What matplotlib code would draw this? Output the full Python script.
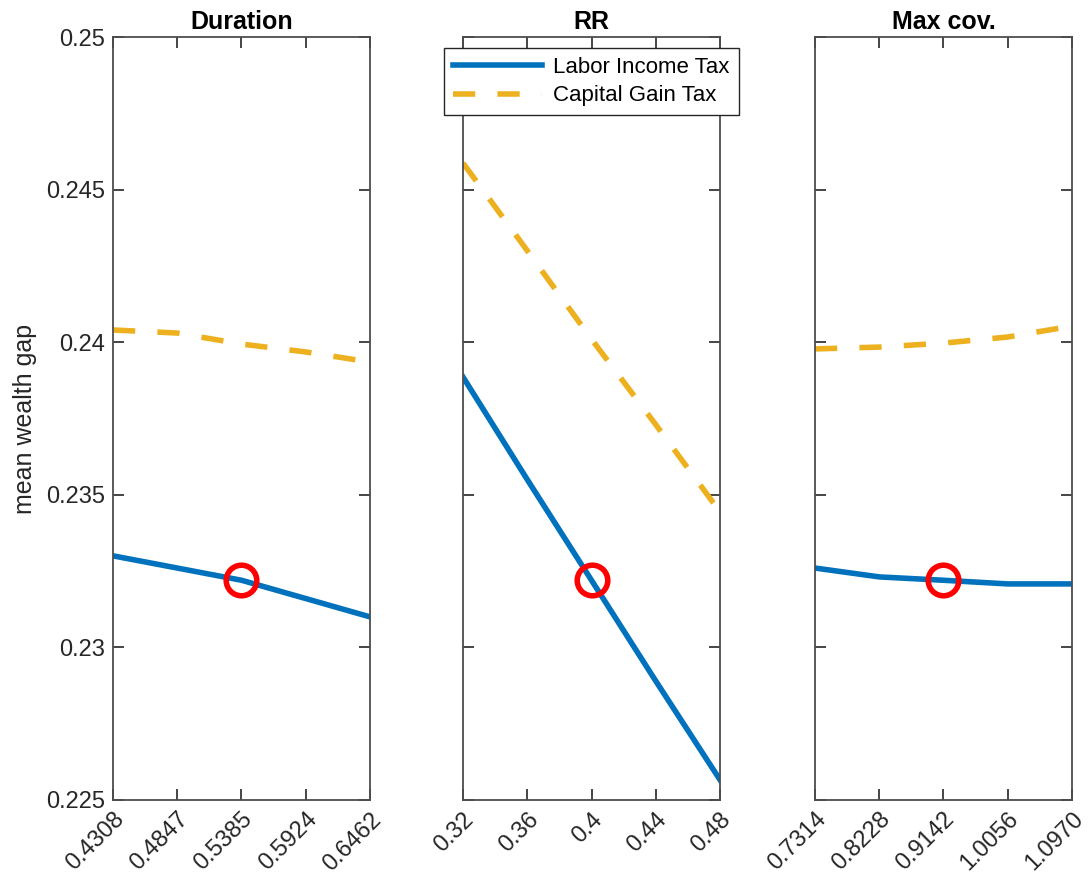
import numpy as np
import matplotlib
matplotlib.use('Agg')
import matplotlib.pyplot as plt

plt.rcParams['font.family'] = ['Liberation Sans', 'DejaVu Sans']

titles = ['Duration', 'RR', 'Max cov.']

duration_x = [0.4308, 0.4847, 0.5385, 0.5924, 0.6462]
duration_labor = [0.2330, 0.2326, 0.2322, 0.2316, 0.2310]
duration_capital = [0.2404, 0.2403, 0.23994, 0.23968, 0.23935]

rr_x = [0.32, 0.36, 0.40, 0.44, 0.48]
rr_labor = [0.23886, 0.2355, 0.2322, 0.2289, 0.22566]
rr_capital = [0.24587, 0.2430, 0.2401, 0.2373, 0.23444]

cov_x = [0.7314, 0.8228, 0.9142, 1.0056, 1.0970]
cov_labor = [0.2326, 0.23231, 0.2322, 0.23208, 0.23208]
cov_capital = [0.23978, 0.23984, 0.23997, 0.24017, 0.24053]

tick_labels = [
    ['0.4308', '0.4847', '0.5385', '0.5924', '0.6462'],
    ['0.32', '0.36', '0.4', '0.44', '0.48'],
    ['0.7314', '0.8228', '0.9142', '1.0056', '1.0970'],
]

xs = [duration_x, rr_x, cov_x]
labor = [duration_labor, rr_labor, cov_labor]
capital = [duration_capital, rr_capital, cov_capital]

blue = '#0072BD'
yellow = '#EDB120'
axcol = '#262626'

fig = plt.figure(figsize=(10.91, 8.86), dpi=100)
lefts = [113 / 1091, 463 / 1091, 815 / 1091]
axes = []
for i in range(3):
    ax = fig.add_axes([lefts[i], 86 / 886, 257 / 1091, 763 / 886])
    axes.append(ax)
    l1, = ax.plot(xs[i], labor[i], color=blue, lw=4, label='Labor Income Tax')
    l2, = ax.plot(xs[i], capital[i], color=yellow, lw=4, ls=(0, (4, 4)),
                  label='Capital Gain Tax')
    ax.plot(xs[i][2], labor[i][2], 'o', ms=22, mfc='none', mec='red', mew=4)
    ax.set_xlim(xs[i][0], xs[i][-1])
    ax.set_ylim(0.225, 0.25)
    ax.set_xticks(xs[i])
    ax.set_xticklabels(tick_labels[i], rotation=45, ha='right', rotation_mode='anchor')
    ax.set_yticks([0.225, 0.23, 0.235, 0.24, 0.245, 0.25])
    if i == 0:
        ax.set_yticklabels(['0.225', '0.23', '0.235', '0.24', '0.245', '0.25'])
        ax.set_ylabel('mean wealth gap', fontsize=18, color=axcol, labelpad=6)
    else:
        ax.set_yticklabels([])
    ax.set_title(titles[i], fontsize=18, fontweight='bold', pad=6)
    ax.tick_params(direction='in', top=True, right=True, length=8, width=1.2,
                   labelsize=17, colors=axcol, pad=6)
    for sp in ax.spines.values():
        sp.set_color('#4d4d4d')
        sp.set_linewidth(1.3)

axes[1].legend(handles=[l1, l2], loc='upper center', bbox_to_anchor=(0.5, 0.986),
               borderaxespad=0, fontsize=16, frameon=True, fancybox=False,
               edgecolor=axcol, framealpha=1, handlelength=4, borderpad=0.4,
               labelspacing=0.35, handletextpad=0.5)

fig.savefig('out.png', dpi=100)
